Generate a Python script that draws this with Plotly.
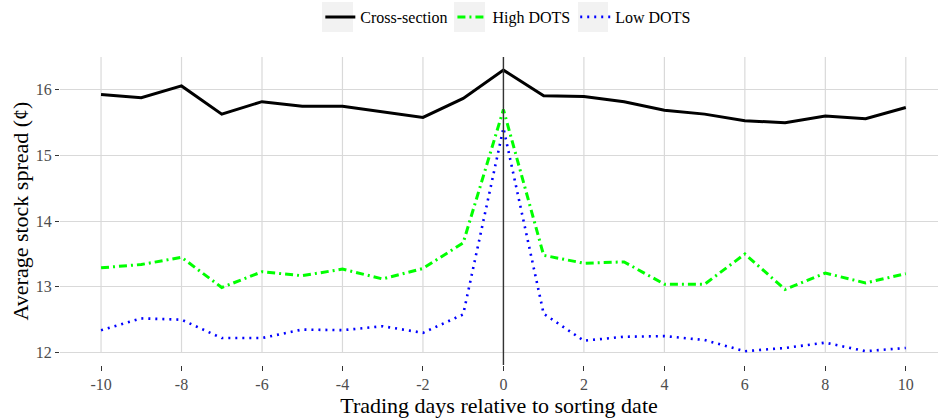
import plotly.graph_objects as go

# Trading days relative to the sorting date
days = list(range(-10, 11))

# Average stock spread (cents) per group
cross_section = [15.93, 15.88, 16.06, 15.63, 15.82, 15.75, 15.75, 15.66, 15.58, 15.87,
                 16.30, 15.91, 15.90, 15.82, 15.69, 15.63, 15.53, 15.50, 15.60, 15.56, 15.73]
high_dots = [13.29, 13.34, 13.45, 12.99, 13.23, 13.17, 13.27, 13.12, 13.28, 13.67,
             15.70, 13.48, 13.36, 13.38, 13.04, 13.04, 13.50, 12.96, 13.21, 13.06, 13.20]
low_dots = [12.34, 12.52, 12.50, 12.22, 12.22, 12.35, 12.34, 12.40, 12.30, 12.58,
            15.42, 12.59, 12.18, 12.24, 12.25, 12.19, 12.02, 12.07, 12.15, 12.02, 12.07]

x_ticks = [-10, -8, -6, -4, -2, 0, 2, 4, 6, 8, 10]
y_ticks = [12, 13, 14, 15, 16]

FONT = "'Liberation Serif', 'Times New Roman', serif"
GRID = "#d9d9d9"

fig = go.Figure()
fig.add_trace(go.Scatter(x=days, y=cross_section, mode="lines", name="Cross-section",
                         line=dict(color="black", width=3)))
fig.add_trace(go.Scatter(x=days, y=high_dots, mode="lines", name="High DOTS",
                         line=dict(color="#00ff00", width=3, dash="8px,4px,2px,4px")))
fig.add_trace(go.Scatter(x=days, y=low_dots, mode="lines", name="Low DOTS",
                         line=dict(color="#0000ff", width=2.6, dash="2px,5px")))

shapes = []
# vertical grid lines stop at the lowest horizontal grid line
for t in x_ticks:
    shapes.append(dict(type="line", xref="x", yref="y", x0=t, x1=t, y0=y_ticks[0], y1=16.5,
                       line=dict(color=GRID, width=1.2), layer="below"))
# reference line at the sorting date
shapes.append(dict(type="line", xref="x", yref="paper", x0=0, x1=0, y0=0, y1=1,
                   line=dict(color="#333333", width=1.4), layer="above"))
# grey key backgrounds behind the legend symbols
for x0, x1 in [(322, 353), (454, 485), (578, 608)]:
    shapes.append(dict(type="rect", xref="paper", yref="paper",
                       x0=(x0 - 60) / 878, x1=(x1 - 60) / 878,
                       y0=(365 - 32) / 308, y1=(365 - 2) / 308,
                       fillcolor="#f2f2f2", line=dict(width=0), layer="below"))

fig.update_layout(
    width=938, height=418,
    margin=dict(l=60, r=0, t=57, b=53),
    paper_bgcolor="white", plot_bgcolor="white",
    font=dict(family=FONT, color="black"),
    showlegend=True,
    legend=dict(orientation="h", xref="container", yref="container",
                x=0.3415, xanchor="left", y=1.0, yanchor="top",
                font=dict(family=FONT, size=16, color="black"),
                bgcolor="rgba(0,0,0,0)", itemwidth=30, tracegroupgap=0),
    shapes=shapes,
    xaxis=dict(range=[-11.02, 10.80], tickvals=x_ticks, ticktext=[str(t) for t in x_ticks],
               showgrid=False, zeroline=False, showline=False,
               ticks="outside", ticklen=5, tickwidth=1.2, tickcolor="#333333",
               tickfont=dict(family=FONT, size=16, color="#4d4d4d"),
               title=dict(text="Trading days relative to sorting date",
                          font=dict(family=FONT, size=22, color="black"), standoff=4)),
    yaxis=dict(range=[11.81, 16.50], tickvals=y_ticks, ticktext=[str(t) for t in y_ticks],
               showgrid=True, gridcolor=GRID, gridwidth=1.2, zeroline=False, showline=False,
               ticks="outside", ticklen=4, tickwidth=1.2, tickcolor="#333333",
               tickfont=dict(family=FONT, size=16, color="#4d4d4d"),
               title=dict(text="Average stock spread (¢)",
                          font=dict(family=FONT, size=22, color="black"), standoff=1)),
)

fig.write_html("out.html")
